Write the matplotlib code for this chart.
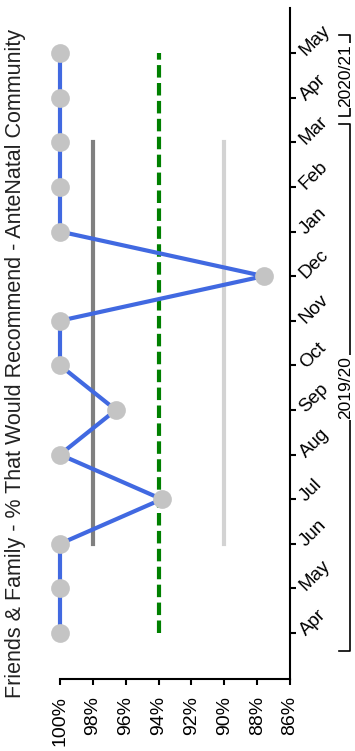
import matplotlib
matplotlib.use("Agg")
import matplotlib.pyplot as plt
import matplotlib.transforms as mtransforms

plt.rcParams['font.family'] = ['Liberation Sans', 'DejaVu Sans']

# Monthly data (Apr 2019 - May 2020)
months = ['Apr', 'May', 'Jun', 'Jul', 'Aug', 'Sep', 'Oct', 'Nov',
          'Dec', 'Jan', 'Feb', 'Mar', 'Apr', 'May']
recommend_pct = [100, 100, 100, 93.8, 100, 96.6, 100, 100,
                 87.6, 100, 100, 100, 100, 100]

# Reference lines
target_pct = 94
upper_ref_pct = 98
lower_ref_pct = 90
ref_start, ref_end = 'Jun', 'Mar'

# Financial year groups: (label, first month index, last month index)
year_groups = [('2019/20', 0, 11), ('2020/21', 12, 13)]

pct_ticks = [100, 98, 96, 94, 92, 90, 88, 86]
ylabel = 'Friends & Family - % That Would Recommend - AnteNatal Community'

W, H = 355, 751
fig = plt.figure(figsize=(W / 100, H / 100), dpi=100)
ax = fig.add_axes([60 / W, (H - 679) / H, 230 / W, 671 / H])

pos = list(range(len(months)))
i0 = months.index(ref_start)
i1 = len(months) - 1 - months[::-1].index(ref_end)

ax.plot([target_pct] * len(pos), pos, color='#008000', lw=3,
        dashes=(3, 1.3), zorder=2)
ax.plot([upper_ref_pct] * 2, [i0, i1], color='#808080', lw=3, zorder=2)
ax.plot([lower_ref_pct] * 2, [i0, i1], color='#d3d3d3', lw=3, zorder=2)
ax.plot(recommend_pct, pos, color='#4169e1', lw=3, zorder=3, clip_on=False)
ax.plot(recommend_pct, pos, 'o', color='#c4c4c4', ms=13.5, mew=0, zorder=4,
        clip_on=False)

ax.set_xlim(100, 86)
ax.set_ylim(-1.03, 14.01)

for s in ('left', 'top'):
    ax.spines[s].set_visible(False)
for s in ('right', 'bottom'):
    ax.spines[s].set_linewidth(1.5)
    ax.spines[s].set_color('black')

ax.set_xticks(pct_ticks)
ax.set_xticklabels([f'{t}%' for t in pct_ticks], rotation=90, fontsize=14)
ax.tick_params(axis='x', direction='out', length=4, width=1.5, pad=8)

ax.yaxis.tick_right()
ax.set_yticks(pos)
ax.set_yticklabels(months, rotation=45, fontsize=13.5,
                   ha='left', va='center', rotation_mode='anchor')
ax.tick_params(axis='y', direction='out', length=4, width=1.5, pad=5)

fig.text(16 / W, 1 - 363 / H, ylabel, rotation=90, fontsize=15.5,
         ha='center', va='center', color='#222222')

# Year group brackets beside the month axis
trans = mtransforms.blended_transform_factory(ax.transAxes, ax.transData)
xb = (350 - 60) / 230
xt = (339 - 60) / 230
for label, a, b in year_groups:
    lo, hi = a - 0.4, b + 0.4
    ax.plot([xt, xb, xb, xt], [lo, lo, hi, hi], color='black', lw=1.2,
            transform=trans, clip_on=False, zorder=1)
    ax.text((346 - 60) / 230, (lo + hi) / 2, label, rotation=90, fontsize=12.5,
            ha='center', va='center', transform=trans, clip_on=False,
            bbox=dict(facecolor='white', edgecolor='none', pad=1), zorder=5)

fig.savefig('out.png', dpi=100)
